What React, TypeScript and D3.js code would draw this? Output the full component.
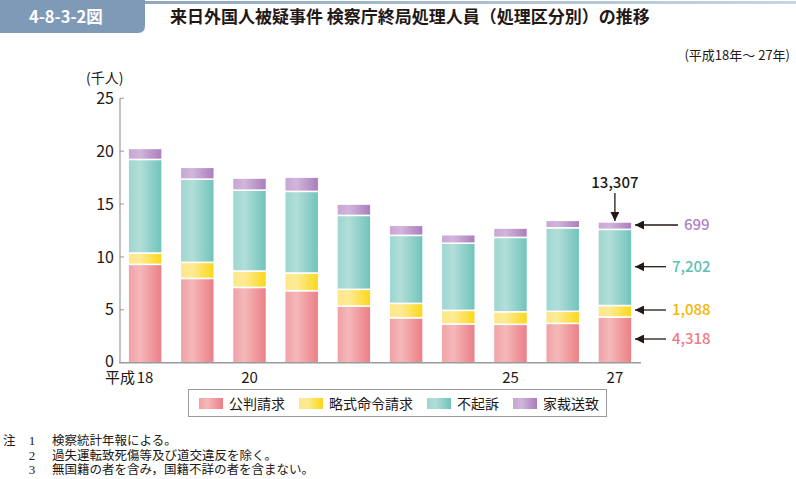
import React from "react";
import * as d3 from "d3";

const years = ["18", "19", "20", "21", "22", "23", "24", "25", "26", "27"];
const yearLabels = ["18", "", "20", "", "", "", "", "25", "", "27"];
const kohan = [9.3, 7.97, 7.12, 6.81, 5.36, 4.25, 3.66, 3.63, 3.72, 4.318];
const ryakushiki = [1.07, 1.52, 1.55, 1.67, 1.58, 1.36, 1.29, 1.19, 1.14, 1.088];
const fukiso = [8.85, 7.87, 7.65, 7.72, 6.99, 6.43, 6.35, 7.03, 7.9, 7.202];
const kasai = [1.04, 1.11, 1.14, 1.35, 1.07, 0.95, 0.8, 0.88, 0.7, 0.699];
const seriesNames = ["公判請求", "略式命令請求", "不起訴", "家裁送致"];
const yTicks = [0, 5, 10, 15, 20, 25];
const lastLabels = ["4,318", "1,088", "7,202", "699"];
const totalLabel = "13,307";
const notes = [
  "検察統計年報による。",
  "過失運転致死傷等及び道交違反を除く。",
  "無国籍の者を含み，国籍不詳の者を含まない。",
];

const gradStops = [
  ["#f0a0a5", "#f5b8b9", "#eb7d85"],
  ["#fde68a", "#fdeb94", "#fbd716"],
  ["#9dd6cf", "#b2ded9", "#6ec3ba"],
  ["#c7a5d3", "#d1b5db", "#a97cbc"],
];
const textColors = ["#ee7c86", "#f6b500", "#5dbfb5", "#b07fc1"];
const FONT = "'Noto Sans CJK JP', 'Noto Sans', sans-serif";

export default function App() {
  const x = d3
    .scaleBand<string>()
    .domain(years)
    .range([119, 641])
    .paddingInner(0.35)
    .paddingOuter(0.175);
  const y = d3.scaleLinear().domain([0, 25]).range([362.7, 98.3]);

  const table = years.map((yr, i) => ({
    year: yr,
    v0: kohan[i],
    v1: ryakushiki[i],
    v2: fukiso[i],
    v3: kasai[i],
  }));
  const stack = d3.stack<any>().keys(["v0", "v1", "v2", "v3"])(table);

  const last = years[years.length - 1];
  const lastCx = (x(last) as number) + x.bandwidth() / 2;
  const lastSeg = stack.map((s) => s[s.length - 1]);
  const labelYs = [339, 310, 266.7, 225];

  return (
    <div style={{ position: "absolute", left: 0, top: 0 }}>
      <svg width={796} height={479} style={{ display: "block", fontFamily: FONT }}>
        <defs>
          {gradStops.map((g, i) => (
            <linearGradient key={i} id={`g${i}`} x1="0" x2="1" y1="0" y2="0">
              <stop offset="0" stopColor={g[0]} />
              <stop offset="0.35" stopColor={g[1]} />
              <stop offset="1" stopColor={g[2]} />
            </linearGradient>
          ))}
          <linearGradient id="topline" x1="0" x2="1" y1="0" y2="0">
            <stop offset="0" stopColor="#8ea6bf" />
            <stop offset="1" stopColor="#c9d5e1" />
          </linearGradient>
          <marker id="ah" viewBox="0 0 10 10" refX="10" refY="5" markerWidth="9" markerHeight="9" markerUnits="userSpaceOnUse" orient="auto">
            <path d="M0,0 L10,5 L0,10 z" fill="#231815" />
          </marker>
        </defs>

        {/* header */}
        <rect x={145} y={1} width={651} height={3} fill="url(#topline)" />
        <path d="M0,0 H145 V26 Q145,33 138,33 H0 Z" fill="#7f9ab6" />
        <text x={29} y={22.5} fill="#fff" fontSize={16.5} fontWeight={700}>
          4-8-3-2図
        </text>
        <text x={170} y={23} fill="#231815" fontSize={17} fontWeight={700}>
          来日外国人被疑事件 検察庁終局処理人員（処理区分別）の推移
        </text>
        <text x={790} y={60} textAnchor="end" fill="#231815" fontSize={13}>
          (平成18年～ 27年)
        </text>

        {/* y axis */}
        <text x={86} y={83} fill="#231815" fontSize={14}>
          (千人)
        </text>
        <line x1={120} x2={120} y1={y(25)} y2={y(0)} stroke="#9a9a9a" strokeWidth={1.2} />
        {yTicks.map((t) => (
          <g key={t}>
            <line x1={120} x2={124} y1={y(t)} y2={y(t)} stroke="#9a9a9a" strokeWidth={1} />
            <text x={114} y={t === 0 ? y(t) - 1.5 : y(t)} dy="0.35em" textAnchor="end" fontSize={16} fill="#231815">
              {t}
            </text>
          </g>
        ))}

        {/* bars */}
        {stack.map((s, si) => (
          <g key={si}>
            {s.map((d, i) => (
              <rect
                key={i}
                x={x(years[i])}
                width={x.bandwidth()}
                y={y(d[1])}
                height={y(d[0]) - y(d[1])}
                fill={`url(#g${si})`}
                stroke="#fff"
                strokeWidth={1.5}
              />
            ))}
          </g>
        ))}
        <line x1={119} x2={641} y1={y(0)} y2={y(0)} stroke="#9a9a9a" strokeWidth={1.5} />

        {/* x labels */}
        {years.map((yr, i) =>
          yearLabels[i] ? (
            <text
              key={yr}
              x={(x(yr) as number) + x.bandwidth() / 2}
              y={382.5}
              textAnchor="middle"
              fontSize={15}
              fill="#231815"
            >
              {yearLabels[i]}
            </text>
          ) : null
        )}
        <text x={135} y={382.5} textAnchor="end" fontSize={15} fill="#231815">
          平成
        </text>

        {/* annotations */}
        <text x={lastCx} y={188} textAnchor="middle" fontSize={15} fontWeight={500} fill="#231815">
          {totalLabel}
        </text>
        <line
          x1={lastCx}
          x2={lastCx}
          y1={193}
          y2={y(lastSeg[3][1]) - 1}
          stroke="#231815"
          strokeWidth={1.3}
          markerEnd="url(#ah)"
        />
        {lastLabels.map((lab, i) => (
          <g key={i}>
            <line
              x1={i === 3 ? 678 : 666}
              x2={635}
              y1={labelYs[i]}
              y2={labelYs[i]}
              stroke="#231815"
              strokeWidth={1.3}
              markerEnd="url(#ah)"
            />
            <text
              x={i === 3 ? 684 : 672}
              y={labelYs[i]}
              dy="0.36em"
              fontSize={15}
              fontWeight={500}
              fill={textColors[i]}
            >
              {lab}
            </text>
          </g>
        ))}

        {/* legend */}
        <rect x={188.5} y={389.5} width={418} height={27} fill="#fff" stroke="#9a9a9a" strokeWidth={1} />
        {seriesNames.map((n, i) => {
          const lx = [199, 299, 427, 513][i];
          return (
            <g key={n}>
              <rect x={lx} y={398} width={24} height={11} fill={`url(#g${i})`} />
              <text x={lx + 30} y={403.5} dy="0.36em" fontSize={14} fill="#231815">
                {n}
              </text>
            </g>
          );
        })}

        {/* notes */}
        <text x={3} y={445} fontSize={12.5} fill="#231815">
          注
        </text>
        {notes.map((n, i) => (
          <g key={i} fontSize={12.5} fill="#231815">
            <text x={32} y={445 + i * 14.5} textAnchor="middle" fontFamily="'Liberation Serif', serif" fontSize={13}>
              {i + 1}
            </text>
            <text x={52} y={445 + i * 14.5}>
              {n}
            </text>
          </g>
        ))}
      </svg>
    </div>
  );
}
